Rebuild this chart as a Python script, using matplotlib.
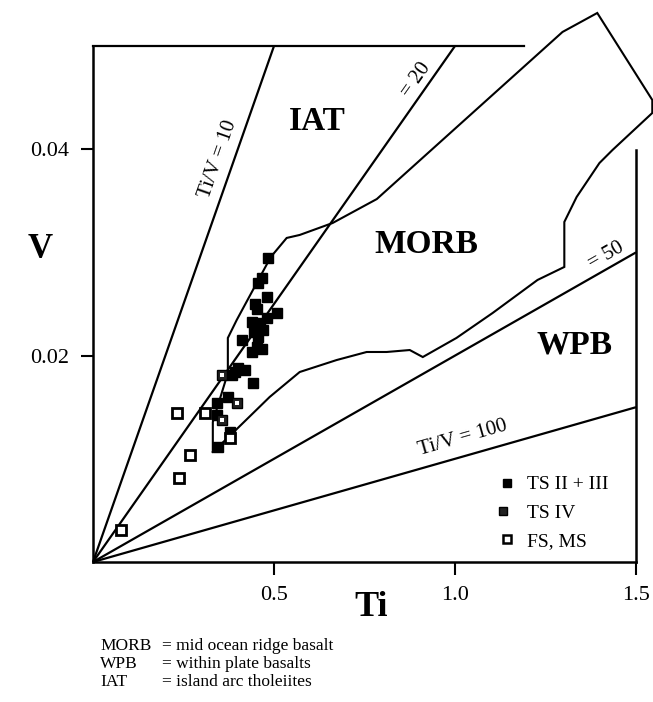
import matplotlib
matplotlib.use('Agg')
import matplotlib.pyplot as plt
from matplotlib.lines import Line2D
from matplotlib.legend_handler import HandlerTuple
import numpy as np

plt.rcParams['font.family'] = ['Liberation Serif', 'DejaVu Serif']

# ---------------- data ----------------
ratio_values = [10, 20, 50, 100]
ratio_labels = ['Ti/V = 10', '= 20', '= 50', 'Ti/V = 100']
ratio_label_ti = [0.345, 0.894, 1.418, 1.021]
ratio_label_v = [0.0390, 0.0467, 0.0297, 0.0120]

morb_ti = [0.331, 0.331, 0.3725, 0.3725, 0.397, 0.491, 0.535, 0.571, 0.662, 0.784,
           1.297, 1.393, 1.545, 1.545, 1.435, 1.399, 1.336, 1.302, 1.302, 1.228,
           1.104, 1.004, 0.911, 0.875, 0.811, 0.756, 0.673, 0.571, 0.488, 0.386, 0.331]
morb_v = [0.01066, 0.01357, 0.01831, 0.02171, 0.02345, 0.02955, 0.03140, 0.03169, 0.03285, 0.03517,
          0.05136, 0.05320, 0.04477, 0.04351, 0.03992, 0.03866, 0.03537, 0.03295, 0.02859, 0.02733,
          0.02413, 0.02171, 0.01986, 0.02054, 0.02035, 0.02035, 0.01957, 0.01841, 0.01599, 0.01250, 0.01066]

ts23_ti = [0.483, 0.466, 0.455, 0.480, 0.4525, 0.480, 0.439, 0.461, 0.508, 0.455, 0.411,
           0.4525, 0.466, 0.439, 0.400, 0.419, 0.384, 0.392, 0.4415, 0.3725, 0.342, 0.342,
           0.378, 0.345, 0.447, 0.470, 0.445]
ts23_v = [0.02946, 0.02752, 0.02703, 0.02568, 0.02452, 0.02364, 0.02326, 0.02316, 0.02413,
          0.02180, 0.02151, 0.02083, 0.02064, 0.02035, 0.01880, 0.01860, 0.01812, 0.01841,
          0.01734, 0.01599, 0.01541, 0.01424, 0.01260, 0.01114, 0.02500, 0.02250, 0.02230]

ts4_ti = [0.356, 0.397, 0.356]
ts4_v = [0.01812, 0.01541, 0.01376]

fsms_ti = [0.378, 0.232, 0.309, 0.268, 0.237, 0.077]
fsms_v = [0.01202, 0.01444, 0.01444, 0.01037, 0.00814, 0.00310]

field_names = ['IAT', 'MORB', 'WPB']
field_ti = [0.621, 0.922, 1.330]
field_v = [0.04264, 0.03072, 0.02103]

x_ticks = [0.5, 1.0, 1.5]
x_ticklabels = ['0.5', '1.0', '1.5']
y_ticks = [0.02, 0.04]
y_ticklabels = ['0.02', '0.04']

legend_labels = ['TS II + III', 'TS IV', 'FS, MS']
footnote_abbr = ['MORB', 'WPB', 'IAT']
footnote_text = ['= mid ocean ridge basalt', '= within plate basalts', '= island arc tholeiites']

# ---------------- figure ----------------
W, H = 653, 702
fig = plt.figure(figsize=(W / 100, H / 100), dpi=100)
ax = fig.add_axes([93 / W, 1 - 562 / H, (636 - 93) / W, (562 - 46) / H])
ax.set_xlim(0, 1.5)
ax.set_ylim(0, 0.05)

for s in ['top', 'right']:
    ax.spines[s].set_visible(False)
for s in ['left', 'bottom']:
    ax.spines[s].set_linewidth(1.8)

# partial top and right frame lines
ax.plot([0, 1.19], [0.05, 0.05], color='black', lw=1.6, clip_on=False)
ax.plot([1.5, 1.5], [0, 0.0399], color='black', lw=1.8, clip_on=False)

ax.set_xticks(x_ticks)
ax.set_xticklabels(x_ticklabels)
ax.set_yticks(y_ticks)
ax.set_yticklabels(y_ticklabels)
ax.tick_params(axis='both', direction='out', length=9, width=1.5, labelsize=16, pad=8)

# ratio lines
lw = 1.6
for r, lab, lt, lv in zip(ratio_values, ratio_labels, ratio_label_ti, ratio_label_v):
    if r * 0.05 <= 1.5:
        t_end, v_end = r * 0.05, 0.05
    else:
        t_end, v_end = 1.5, 1.5 / r
    ax.plot([0, t_end], [0, v_end], color='black', lw=lw, clip_on=False, solid_capstyle='butt')
    ang = np.degrees(np.arctan2(1.0, r))
    ax.text(lt, lv, lab, fontsize=15, rotation=ang, rotation_mode='anchor',
            transform_rotates_text=True, ha='center', va='center')

# MORB field
ax.plot(morb_ti, morb_v, color='black', lw=1.5, clip_on=False, solid_joinstyle='miter')

# field names
for name, t, v in zip(field_names, field_ti, field_v):
    ax.text(t, v, name, fontsize=24, fontweight='bold', ha='center', va='center')

# data points
ms = 7.5
ax.plot(ts23_ti, ts23_v, ls='none', marker='s', ms=ms, mfc='black', mec='black', zorder=5)
ax.plot(ts4_ti, ts4_v, ls='none', marker='s', ms=ms, mfc='#222222', mec='black', zorder=5)
ax.plot(ts4_ti, ts4_v, ls='none', marker='s', ms=2.2, mfc='white', mec='white', mew=0, zorder=6)
ax.plot(fsms_ti, fsms_v, ls='none', marker='s', ms=ms, mfc='white', mec='black', mew=2.0, zorder=5)

# legend
h1 = Line2D([], [], ls='none', marker='s', ms=6, mfc='black', mec='black')
h2a = Line2D([], [], ls='none', marker='s', ms=6, mfc='#222222', mec='black')
h2b = Line2D([], [], ls='none', marker='s', ms=1.8, mfc='white', mec='white', mew=0)
h3 = Line2D([], [], ls='none', marker='s', ms=6, mfc='white', mec='black', mew=1.8)
fig.legend([h1, (h2a, h2b), h3], legend_labels,
           handler_map={tuple: HandlerTuple(ndivide=None, pad=0)},
           loc='upper left', bbox_to_anchor=(488 / W, 1 - 466 / H),
           frameon=False, borderpad=0, handlelength=1.0, handletextpad=0.5,
           labelspacing=0.55, fontsize=14)

# axis titles
fig.text(40 / W, 1 - 250 / H, 'V', fontsize=25, fontweight='bold', ha='center', va='center')
fig.text(371 / W, 1 - 607 / H, 'Ti', fontsize=26, fontweight='bold', ha='center', va='center')

# footnote
for i, (a, t) in enumerate(zip(footnote_abbr, footnote_text)):
    y = 1 - (646 + 18 * i) / H
    fig.text(100 / W, y, a, fontsize=12.5, ha='left', va='center')
    fig.text(162 / W, y, t, fontsize=12.5, ha='left', va='center')

fig.savefig('out.png', dpi=100, facecolor='white')
